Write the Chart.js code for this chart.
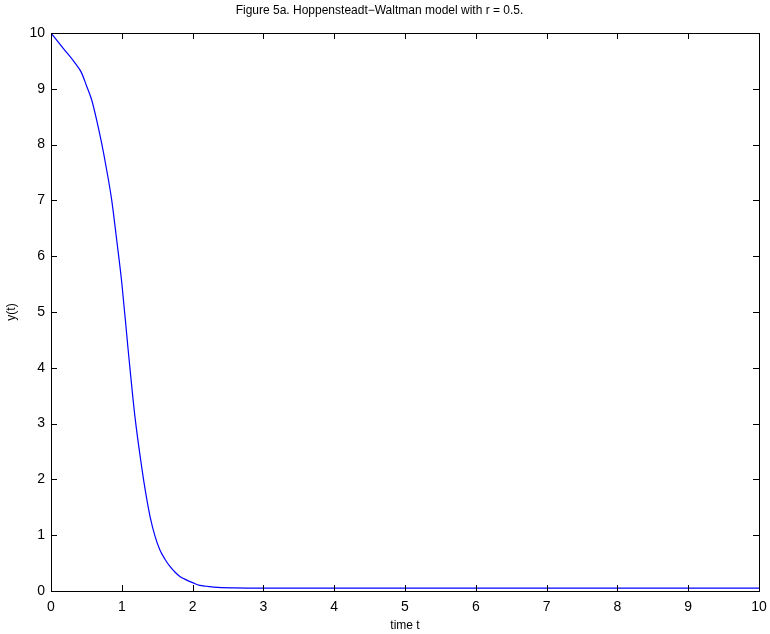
<!DOCTYPE html>
<html>
<head>
<meta charset="utf-8">
<script src="https://cdn.jsdelivr.net/npm/chart.js@4/dist/chart.umd.min.js"></script>
<style>
  html, body { margin: 0; padding: 0; background: #fff; }
  #wrap { width: 770px; height: 634px; }
</style>
</head>
<body>
<div id="wrap"><canvas id="c" width="770" height="634"></canvas></div>
<script>
/* Datos */
const timeT = [0, 0.17, 0.34, 0.43, 0.5, 0.575, 0.645, 0.716, 0.787, 0.857, 0.928, 1.0,
  1.09, 1.186, 1.28, 1.34, 1.4, 1.47, 1.54, 1.61, 1.68, 1.75, 1.82, 1.91, 2.0, 2.1,
  2.2, 2.3, 2.6, 3, 4, 6, 8, 10];
const yValues = [10, 9.73, 9.46, 9.29, 9.06, 8.8, 8.44, 8.02, 7.54, 7.01, 6.29, 5.52,
  4.32, 3.12, 2.23, 1.74, 1.33, 0.98, 0.73, 0.57, 0.44, 0.34, 0.26, 0.2, 0.15, 0.10,
  0.085, 0.07, 0.055, 0.05, 0.05, 0.05, 0.05, 0.05];
const xTicks = [0, 1, 2, 3, 4, 5, 6, 7, 8, 9, 10];
const yTicks = [0, 1, 2, 3, 4, 5, 6, 7, 8, 9, 10];

const FONT = 'Liberation Sans, Arial, Helvetica, sans-serif';

/* Marcas hacia dentro y caja, estilo MATLAB */
const boxTicks = {
  id: 'boxTicks',
  afterDraw(chart) {
    const { ctx, chartArea: a, scales: { x, y } } = chart;
    const len = 6;
    ctx.save();
    ctx.strokeStyle = '#000';
    ctx.lineWidth = 1;
    ctx.beginPath();
    xTicks.forEach(v => {
      const px = Math.round(x.getPixelForValue(v)) + 0.5;
      ctx.moveTo(px, a.bottom); ctx.lineTo(px, a.bottom - len);
      ctx.moveTo(px, a.top); ctx.lineTo(px, a.top + len);
    });
    yTicks.forEach(v => {
      const py = Math.round(y.getPixelForValue(v)) + 0.5;
      ctx.moveTo(a.left, py); ctx.lineTo(a.left + len, py);
      ctx.moveTo(a.right, py); ctx.lineTo(a.right - len, py);
    });
    ctx.stroke();
    ctx.strokeRect(Math.round(a.left) + 0.5, Math.round(a.top) + 0.5,
      Math.round(a.right - a.left), Math.round(a.bottom - a.top));
    ctx.restore();
  }
};

new Chart(document.getElementById('c'), {
  type: 'scatter',
  data: {
    datasets: [{
      data: timeT.map((t, i) => ({ x: t, y: yValues[i] })),
      showLine: true,
      borderColor: '#0000ff',
      borderWidth: 1.2,
      pointRadius: 0,
      cubicInterpolationMode: 'monotone',
      fill: false
    }]
  },
  options: {
    responsive: false,
    animation: false,
    layout: { padding: { left: 0, right: 11, top: 0, bottom: 0 } },
    plugins: {
      legend: { display: false },
      tooltip: { enabled: false },
      title: {
        display: true,
        text: 'Figure 5a. Hoppensteadt\u2212Waltman model with r = 0.5.',
        color: '#000',
        font: { family: FONT, size: 12, weight: 'normal' },
        padding: { top: 3, bottom: 15.6 }
      }
    },
    scales: {
      x: {
        type: 'linear',
        min: 0, max: 10,
        afterBuildTicks: s => { s.ticks = xTicks.map(v => ({ value: v })); },
        afterFit: s => { s.height = 43; s.paddingLeft = 0; s.paddingRight = 0; },
        grid: { display: false, drawTicks: false },
        border: { display: false },
        ticks: { color: '#000', padding: 8, font: { family: FONT, size: 14 } },
        title: {
          display: true, text: 'time t', color: '#000',
          font: { family: FONT, size: 12 }, padding: { top: 0, bottom: 1 }
        }
      },
      y: {
        type: 'linear',
        min: 0, max: 10,
        afterBuildTicks: s => { s.ticks = yTicks.map(v => ({ value: v })); },
        afterFit: s => { s.width = 51; s.paddingTop = 0; s.paddingBottom = 0; },
        grid: { display: false, drawTicks: false },
        border: { display: false },
        ticks: { color: '#000', padding: 6, font: { family: FONT, size: 14 } },
        title: {
          display: true, text: 'y(t)', color: '#000',
          font: { family: FONT, size: 12 }, padding: { top: 4, bottom: 5 }
        }
      }
    }
  },
  plugins: [boxTicks]
});
</script>
</body>
</html>
